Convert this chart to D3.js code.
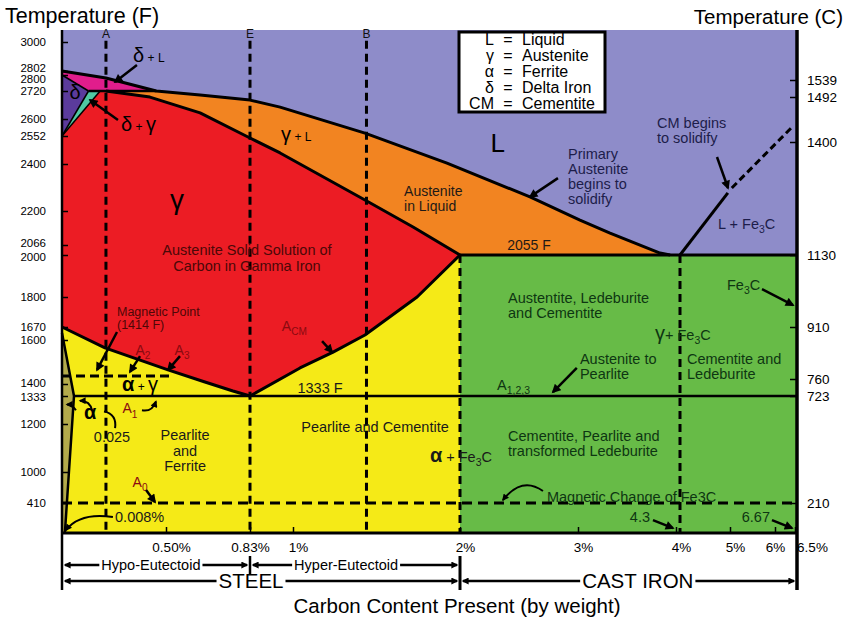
<!DOCTYPE html>
<html>
<head>
<meta charset="utf-8">
<script src="https://cdn.jsdelivr.net/npm/d3@7"></script>
<style>
  body { margin: 0; background: #fff; }
  svg { display: block; }
  text { font-family: "Liberation Sans", Arial, sans-serif; white-space: pre; }
</style>
</head>
<body>
<svg id="chart" width="847" height="621"></svg>
<script>
document.addEventListener('DOMContentLoaded', () => {

  // ---- axis ticks
  const tempTicksF = [3000, 2802, 2800, 2720, 2600, 2552, 2400, 2200, 2066, 2000, 1800, 1670, 1600, 1400, 1333, 1200, 1000, 410];
  const tempTicksC = [1539, 1492, 1400, 1130, 910, 760, 723, 210];
  const carbonTicks = [0.5, 0.83, 1, 2, 3, 4, 5, 6, 6.5];
  const carbonTickLabels = ['0.50%', '0.83%', '1%', '2%', '3%', '4%', '5%', '6%', '6.5%'];

  const tBottom = -160, tTop = 3082, cMax = 6.67;

  // ---- phase boundaries, [carbon %, temperature F]
  const liquidus = [[0, 2802], [0.19, 2785], [0.45, 2720], [0.634, 2703], [0.83, 2681], [0.949, 2651],
    [1.431, 2560], [1.922, 2405], [2.593, 2260], [3.02, 2164], [3.327, 2113], [3.837, 2013], [3.94, 2000]];
  const solidus = [[0.19, 2720], [0.417, 2694], [0.634, 2626], [0.83, 2541], [0.949, 2460],
    [1.431, 2247], [1.719, 2137], [2, 2000]];
  const acmLine = [[2, 2000], [1.743, 1800], [1.431, 1627], [1.24, 1545], [1.042, 1473], [0.83, 1333]];
  const a3Line = [[0, 1670], [0.185, 1564], [0.508, 1464], [0.653, 1409], [0.763, 1361], [0.83, 1333]];
  const alphaSolvus = [[0, 1638], [0.025, 1333], [0.006, tBottom]];
  const deltaLiquidTip = [[0, 2802], [0.19, 2785], [0.45, 2720], [0.1, 2720], [0, 2800]];
  const deltaIron = [[0, 2800], [0.1, 2720], [0, 2552]];
  const deltaGamma = [[0.1, 2720], [0.16, 2720], [0, 2552]];
  const peritectic = [[0.1, 2720], [0.45, 2720]];
  const eutectic = [[2, 2000], [cMax, 2000]];
  const eutectoid = [[0.025, 1333], [cMax, 1333]];
  const cmSolid = [[4.3, 2000], [4.97, 2277]];
  const cmDashed = [[5.04, 2298], [6.425, 2577]];
  const magneticPoint = [[0, 1436], [0.516, 1436]];
  const magneticFe3C = [[0, 410], [cMax, 410]];
  const steelMarks = [0.19, 0.83, 1.44];
  const phaseLimits = [2, 4.3];

  // ---- legend
  const legendSymbols = ['L', 'γ', 'α', 'δ', 'CM'];
  const legendNames = ['Liquid', 'Austenite', 'Ferrite', 'Delta Iron', 'Cementite'];

  // ---- annotations, {glyph} = large symbol, _{x} = subscript
  const lineLetters = [{text: 'A', c: 0.19, t: 3058}, {text: 'E', c: 0.83, t: 3058}, {text: 'B', c: 1.44, t: 3058}];
  const phaseMarks = [
    {text: '{δ} + L', c: 0.33, t: 2891, anchor: 'start'},
    {text: '{δ}', c: 0.03, t: 2703, anchor: 'middle'},
    {text: '{δ} + {γ}', c: 0.268, t: 2577, anchor: 'start'},
    {text: '{γ} + L', c: 0.953, t: 2547, anchor: 'start'},
    {text: '{α} + {γ}', c: 0.273, t: 1383, anchor: 'start'},
    {text: '{α}', c: 0.108, t: 1246, anchor: 'middle'}
  ];
  const phaseBig = [{text: 'L', c: 2.32, t: 2514, anchor: 'middle'}, {text: '{γ}', c: 0.543, t: 2247, anchor: 'middle'}];
  const liquidNotes = [
    {text: 'Primary\nAustenite\nbegins to\nsolidify', c: 2.915, t: 2454, anchor: 'start'},
    {text: 'CM begins\nto solidify', c: 3.806, t: 2589, anchor: 'start'},
    {text: 'L + Fe_{3}C', c: 4.832, t: 2149, anchor: 'start'}
  ];
  const orangeNotes = [
    {text: 'Austenite\nin Liquid', c: 1.665, t: 2283, anchor: 'start'},
    {text: '2055 F', c: 2.585, t: 2066, anchor: 'middle'}
  ];
  const redNotes = [{text: 'Austenite Solid Solution of\nCarbon in Gamma Iron', c: 0.818, t: 2033, anchor: 'middle'}];
  const magneticNotes = [{text: 'Magnetic Point\n(1414 F)', c: 0.247, t: 1735, anchor: 'start'}];
  const criticalNotes = [
    {text: 'A_{2}', c: 0.381, t: 1555, anchor: 'middle'},
    {text: 'A_{3}', c: 0.563, t: 1555, anchor: 'middle'},
    {text: 'A_{1}', c: 0.314, t: 1274, anchor: 'middle'},
    {text: 'A_{0}', c: 0.366, t: 810, anchor: 'middle'},
    {text: 'A_{CM}', c: 0.956, t: 1674, anchor: 'start'}
  ];
  const darkNotes = [
    {text: '1333 F', c: 1.162, t: 1378, anchor: 'middle'},
    {text: 'Pearlite\nand\nFerrite', c: 0.575, t: 1154, anchor: 'middle'},
    {text: 'Pearlite and Cementite', c: 1.491, t: 1188, anchor: 'middle'},
    {text: '{α} + Fe_{3}C', c: 1.82, t: 1063, anchor: 'start'},
    {text: '0.025', c: 0.221, t: 1146, anchor: 'middle'},
    {text: '0.008%', c: 0.237, t: 144, anchor: 'start'}
  ];
  const greenNotes = [
    {text: 'Austentite, Ledeburite\nand Cementite', c: 2.407, t: 1796, anchor: 'start'},
    {text: '{γ}+ Fe_{3}C', c: 3.786, t: 1627, anchor: 'start'},
    {text: 'Austenite to\nPearlite', c: 3.02, t: 1514, anchor: 'start'},
    {text: 'A_{1,2,3}', c: 2.314, t: 1394, anchor: 'start'},
    {text: 'Cementite and\nLedeburite', c: 4.398, t: 1514, anchor: 'start'},
    {text: 'Fe_{3}C', c: 4.958, t: 1857, anchor: 'start'},
    {text: 'Cementite, Pearlite and\ntransformed Ledeburite', c: 2.407, t: 1150, anchor: 'start'},
    {text: 'Magnetic Change of Fe3C', c: 2.737, t: 524, anchor: 'start'},
    {text: '4.3', c: 3.735, t: 144, anchor: 'end'},
    {text: '6.67', c: 5.889, t: 144, anchor: 'end'}
  ];

  // pointer arrows [c1, t1, c2, t2]
  const arrows = [
    [0.35, 2843, 0.237, 2765], [0.252, 2597, 0.108, 2681], [2.83, 2340, 2.593, 2260],
    [4.818, 2438, 4.972, 2298], [0.247, 1643, 0.144, 1464], [0.366, 1527, 0.314, 1455],
    [0.555, 1527, 0.508, 1464], [0.397, 657, 0.443, 429], [1.174, 1595, 1.234, 1545],
    [2.99, 1473, 2.788, 1355], [5.711, 1838, 6.45, 1765], [3.765, 86, 3.969, -66],
    [5.933, 86, 6.425, -66]
  ];
  // curved arrows [c1, t1, control c, control t, c2, t2]
  const curvedArrows = [
    [0.376, 1265, 0.428, 1256, 0.448, 1307],
    [0.118, 1265, 0.108, 1311, 0.056, 1311],
    [0.035, 1265, 0.021, 1293, 0.0104, 1293],
    [0.226, 144, 0.056, 239, 0.0083, -104],
    [2.703, 638, 2.525, 924, 2.364, 467]
  ];
  const curvedLinks = [[0.237, 1183, 0.247, 1246, 0.18, 1260]];

  const bracketRow1 = [{label: 'Hypo-Eutectoid', from: 0, to: 0.83, mid: 0.422}, {label: 'Hyper-Eutectoid', from: 0.83, to: 2, mid: 1.318}];
  const bracketRow2 = [{label: 'STEEL', from: 0, to: 2, mid: 0.834}, {label: 'CAST IRON', from: 2, to: cMax, mid: 3.61}];

  // ---- scales (the original axes are not linear, so piecewise)
  const x = d3.scaleLinear()
    .domain([0, 0.025, 0.5, 0.83, 1, 2, 3, 4, 4.3, 5, 6, 6.5, 6.67])
    .range([62, 74, 166, 250, 293, 460, 578, 676, 680, 730, 775, 795, 797]);
  const yF = d3.scaleLinear()
    .domain([tBottom, 410, 1000, 1200, 1333, 1400, 1600, 1670, 1800, 2000, 2066, 2200, 2400, 2552, 2600, 2720, 2800, 2802, 3000, tTop])
    .range([533, 503, 472, 424, 396, 384, 340, 327, 297, 255, 245, 211, 164, 136, 119, 91, 75, 71, 42, 30]);
  const yC = d3.scaleLinear()
    .domain([210, 723, 760, 910, 1130, 1400, 1492, 1539])
    .range([503, 396, 379, 327, 255, 142, 97, 80]);

  const svg = d3.select('#chart');
  const line = d3.line().x(d => x(d[0])).y(d => yF(d[1]));

  const defs = svg.append('defs');
  defs.append('marker').attr('id', 'arrow')
    .attr('viewBox', '0 0 10 10').attr('refX', 8).attr('refY', 5)
    .attr('markerUnits', 'userSpaceOnUse').attr('markerWidth', 10).attr('markerHeight', 9)
    .attr('orient', 'auto-start-reverse')
    .append('path').attr('d', 'M0,0 L10,5 L0,10 z').attr('fill', '#000');
  defs.append('marker').attr('id', 'arrowSmall')
    .attr('viewBox', '0 0 10 10').attr('refX', 8).attr('refY', 5)
    .attr('markerUnits', 'userSpaceOnUse').attr('markerWidth', 8).attr('markerHeight', 7)
    .attr('orient', 'auto-start-reverse')
    .append('path').attr('d', 'M0,0 L10,5 L0,10 z').attr('fill', '#000');

  // ---- phase fills
  const rect = (c0, t0, c1, t1) => [[c0, t0], [c1, t0], [c1, t1], [c0, t1]];
  const fills = svg.append('g');
  const fill = (pts, color) => fills.append('path').attr('d', line(pts) + 'Z').attr('fill', color);

  fill(rect(0, tTop, cMax, tBottom), '#8e8cc9');
  fill(liquidus.concat([[0, 2000]]), '#f28421');
  fill(rect(0, 2000, 2, tBottom), '#f5ea17');
  fill(rect(2, 2000, cMax, tBottom), '#67bb47');
  fill(deltaLiquidTip, '#e11d8c');
  fill(deltaIron, '#5b3b9c');
  fill(deltaGamma, '#50c9a3');
  fill([[0, 2552], [0.16, 2720]].concat(solidus, acmLine.slice(1), a3Line.slice(0, -1).reverse()), '#ec1c24');
  fill(alphaSolvus.concat([[0, tBottom]]), '#b3aa4b');

  // ---- dashed guide lines
  const guides = svg.append('g').attr('stroke', '#000').attr('stroke-width', 3).attr('fill', 'none');
  steelMarks.forEach(c => guides.append('path').attr('d', line([[c, 3008], [c, tBottom]])).attr('stroke-dasharray', '8,5'));
  phaseLimits.forEach(c => guides.append('path').attr('d', line([[c, 2000], [c, tBottom]])).attr('stroke-dasharray', '8,5'));
  guides.append('path').attr('d', line(magneticPoint)).attr('stroke-dasharray', '9,5');
  guides.append('path').attr('d', line(magneticFe3C)).attr('stroke-dasharray', '10,6');
  guides.append('path').attr('d', line(cmDashed)).attr('stroke-dasharray', '7,4');

  // ---- phase boundaries
  const bounds = svg.append('g').attr('stroke', '#000').attr('fill', 'none').attr('stroke-linejoin', 'round');
  [liquidus, solidus, acmLine, a3Line, eutectic, cmSolid].forEach(p => bounds.append('path').attr('d', line(p)).attr('stroke-width', 3));
  [peritectic, eutectoid, alphaSolvus].forEach(p => bounds.append('path').attr('d', line(p)).attr('stroke-width', 2.5));
  [[[0, 2800], [0.1, 2720]], [[0.1, 2720], [0, 2552]], [[0.16, 2720], [0, 2552]]]
    .forEach(p => bounds.append('path').attr('d', line(p)).attr('stroke-width', 1.5));

  // ---- axes
  const font = '"Liberation Sans", Arial, sans-serif';
  const labelNudge = {2802: -3, 2800: 4, 2066: -2, 2000: 2, 1400: -1, 1333: 1};
  const gL = svg.append('g').attr('transform', `translate(${x(0)},0)`)
    .call(d3.axisLeft(yF).tickValues(tempTicksF).tickSizeInner(-6).tickSizeOuter(0).tickPadding(16).tickFormat(d3.format('d')));
  gL.select('.domain').remove();
  gL.attr('font-family', font).attr('font-size', 11.5);
  gL.selectAll('.tick text').attr('y', d => labelNudge[d] || 0);

  const gR = svg.append('g').attr('transform', `translate(${x(cMax)},0)`)
    .call(d3.axisRight(yC).tickValues(tempTicksC).tickSizeInner(-7).tickSizeOuter(0).tickPadding(10).tickFormat(d3.format('d')));
  gR.select('.domain').remove();
  gR.attr('font-family', font).attr('font-size', 13.5);

  const gB = svg.append('g').attr('transform', `translate(0,${yF(tBottom)})`)
    .call(d3.axisBottom(x).tickValues(carbonTicks).tickSizeInner(-6).tickSizeOuter(0).tickPadding(9)
      .tickFormat((d, i) => carbonTickLabels[i]));
  gB.select('.domain').remove();
  gB.attr('font-family', font).attr('font-size', 13.5);
  gB.selectAll('.tick text').attr('x', d => d === 6.5 ? 17 : (d === 0.83 || d === 6) ? 0 : 5);
  [gL, gR, gB].forEach(g => g.selectAll('.tick line').attr('stroke-width', 1.5));

  const frame = svg.append('g').attr('stroke', '#000');
  frame.append('line').attr('x1', x(0)).attr('x2', x(0)).attr('y1', yF(tTop)).attr('y2', 590).attr('stroke-width', 2.5);
  frame.append('line').attr('x1', x(cMax)).attr('x2', x(cMax)).attr('y1', yF(tTop)).attr('y2', 590).attr('stroke-width', 3.5);
  frame.append('line').attr('x1', x(0)).attr('x2', x(cMax)).attr('y1', yF(tBottom)).attr('y2', yF(tBottom)).attr('stroke-width', 3);
  frame.append('line').attr('x1', x(0.83)).attr('x2', x(0.83)).attr('y1', 556).attr('y2', 574).attr('stroke-width', 2.5);
  frame.append('line').attr('x1', x(2)).attr('x2', x(2)).attr('y1', 556).attr('y2', 590).attr('stroke-width', 3);

  // ---- annotation text
  function addText(parent, d, size, glyphSize, color, lineHeight) {
    const px = x(d.c), py = yF(d.t);
    d.text.split('\n').forEach((ln, i) => {
      const t = parent.append('text')
        .attr('x', px).attr('y', py + i * lineHeight + size * 0.35)
        .attr('text-anchor', d.anchor || 'middle')
        .attr('font-size', size).attr('fill', color);
      let shift = 0;
      ln.split(/(_\{[^}]*\}|\{[^}]*\})/).filter(s => s.length).forEach(seg => {
        const sp = t.append('tspan');
        if (seg.startsWith('_{')) {
          sp.text(seg.slice(2, -1)).attr('font-size', size * 0.72).attr('dy', size * 0.3);
          shift = size * 0.3;
          return;
        }
        if (seg.startsWith('{')) {
          const g = seg.slice(1, -1);
          sp.text(g).attr('font-size', glyphSize).attr('font-weight', g === 'α' ? 'bold' : null);
        } else {
          sp.text(seg);
        }
        if (shift) { sp.attr('dy', -shift); shift = 0; }
      });
    });
  }
  const notes = svg.append('g');
  lineLetters.forEach(d => addText(notes, d, 12, 12, '#111', 14));
  phaseMarks.forEach(d => addText(notes, d, 12, 20, '#000', 14));
  phaseBig.forEach(d => addText(notes, d, 26, 28, '#000', 26));
  liquidNotes.forEach(d => addText(notes, d, 14.5, 20, '#1d1d4a', 15));
  orangeNotes.forEach(d => addText(notes, d, 14, 20, '#1f1a16', 15));
  redNotes.forEach(d => addText(notes, d, 14.5, 20, '#4b0808', 16));
  magneticNotes.forEach(d => addText(notes, d, 12.5, 20, '#4e0707', 13));
  criticalNotes.forEach(d => addText(notes, d, 14, 20, '#8a0a10', 14));
  darkNotes.forEach(d => addText(notes, d, 14.5, 20, '#1a1a1a', 15.5));
  greenNotes.forEach(d => addText(notes, d, 14.5, 20, '#0e3612', 15));

  const pointers = svg.append('g').attr('stroke', '#000').attr('fill', 'none');
  arrows.forEach(a => pointers.append('line')
    .attr('x1', x(a[0])).attr('y1', yF(a[1])).attr('x2', x(a[2])).attr('y2', yF(a[3]))
    .attr('stroke-width', 2.5).attr('marker-end', 'url(#arrow)'));
  const qPath = a => `M${x(a[0])},${yF(a[1])} Q${x(a[2])},${yF(a[3])} ${x(a[4])},${yF(a[5])}`;
  curvedArrows.forEach(a => pointers.append('path').attr('d', qPath(a))
    .attr('stroke-width', 2).attr('marker-end', 'url(#arrowSmall)'));
  curvedLinks.forEach(a => pointers.append('path').attr('d', qPath(a)).attr('stroke-width', 2));

  // ---- legend
  const legend = svg.append('g');
  legend.append('rect').attr('x', 459).attr('y', 32).attr('width', 146).attr('height', 80)
    .attr('fill', '#fff').attr('stroke', '#000').attr('stroke-width', 3);
  legendSymbols.forEach((s, i) => {
    const ly = 39 + i * 16 + 5.6;
    legend.append('text').attr('x', 494).attr('y', ly).attr('text-anchor', 'end').attr('font-size', 16).text(s);
    legend.append('text').attr('x', 508).attr('y', ly).attr('text-anchor', 'middle').attr('font-size', 16).text('=');
    legend.append('text').attr('x', 522).attr('y', ly).attr('font-size', 16).text(legendNames[i]);
  });

  // ---- brackets under the axis
  function bracket(row, y, size, width, marker) {
    row.forEach(d => {
      const xm = x(d.mid);
      const t = svg.append('text').attr('x', xm).attr('y', y + size * 0.35)
        .attr('text-anchor', 'middle').attr('font-size', size).text(d.label);
      const w = t.node().getComputedTextLength();
      svg.append('line').attr('x1', xm - w / 2 - 2).attr('x2', x(d.from) + 3).attr('y1', y).attr('y2', y)
        .attr('stroke', '#000').attr('stroke-width', width).attr('marker-end', `url(#${marker})`);
      svg.append('line').attr('x1', xm + w / 2 + 2).attr('x2', x(d.to) - 3).attr('y1', y).attr('y2', y)
        .attr('stroke', '#000').attr('stroke-width', width).attr('marker-end', `url(#${marker})`);
    });
  }
  bracket(bracketRow1, 565, 14.5, 2.5, 'arrowSmall');
  bracket(bracketRow2, 581, 20.5, 2.5, 'arrowSmall');

  // ---- titles
  svg.append('text').attr('x', 5).attr('y', 23).attr('font-size', 21.5).text('Temperature (F)');
  svg.append('text').attr('x', 843).attr('y', 24).attr('text-anchor', 'end').attr('font-size', 20.5).text('Temperature (C)');
  svg.append('text').attr('x', 457).attr('y', 613).attr('text-anchor', 'middle').attr('font-size', 20.5).text('Carbon Content Present (by weight)');
});
</script>
</body>
</html>
